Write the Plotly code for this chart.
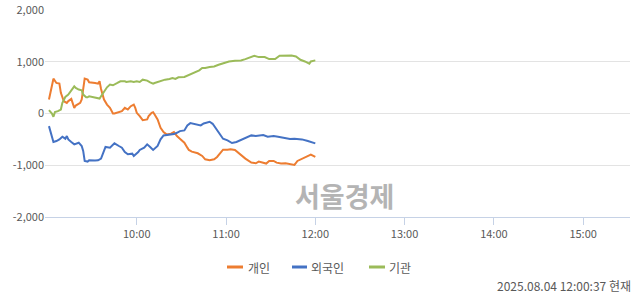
import plotly.graph_objects as go
import pandas as pd

DATE = "2025-08-04"

ind_t = ["09:01","09:04","09:06","09:08","09:09","09:11","09:13","09:14","09:16","09:18","09:19","09:22","09:23","09:24","09:25","09:27","09:28","09:32","09:34","09:35","09:36","09:38","09:40","09:42","09:44","09:45","09:48","09:50","09:52","09:54","09:56","09:58","09:59","10:00","10:02","10:04","10:07","10:08","10:10","10:11","10:12","10:14","10:16","10:18","10:20","10:23","10:25","10:27","10:29","10:32","10:34","10:35","10:37","10:41","10:44","10:46","10:49","10:52","10:54","10:56","10:58","11:01","11:03","11:06","11:08","11:11","11:13","11:17","11:20","11:22","11:25","11:27","11:29","11:32","11:34","11:37","11:40","11:44","11:46","11:48","11:51","11:53","11:55","11:57","12:00"]
ind_v = [270,673,590,577,400,237,205,240,282,109,154,205,270,525,673,654,603,590,577,622,474,270,173,109,0,0,26,45,109,77,141,173,109,13,-51,-128,-115,-51,13,26,-20,-115,-276,-359,-404,-391,-359,-436,-487,-564,-660,-705,-737,-769,-820,-885,-904,-885,-840,-760,-700,-700,-690,-705,-756,-820,-872,-949,-962,-929,-949,-968,-917,-917,-949,-968,-962,-981,-994,-917,-872,-853,-820,-795,-840]

frn_t = ["09:01","09:03","09:04","09:06","09:08","09:10","09:12","09:13","09:14","09:16","09:18","09:21","09:23","09:24","09:25","09:27","09:28","09:32","09:34","09:36","09:38","09:39","09:42","09:44","09:45","09:48","09:50","09:52","09:54","09:57","09:58","10:01","10:02","10:05","10:07","10:09","10:11","10:14","10:16","10:18","10:22","10:25","10:27","10:29","10:32","10:34","10:36","10:38","10:41","10:43","10:45","10:49","10:51","10:53","10:55","10:58","11:01","11:04","11:07","11:10","11:13","11:17","11:20","11:25","11:28","11:32","11:35","11:39","11:43","11:46","11:51","11:55","11:59","12:00"]
frn_v = [-244,-436,-551,-532,-500,-449,-487,-436,-500,-551,-596,-564,-628,-724,-917,-929,-904,-910,-904,-872,-692,-647,-660,-609,-577,-628,-660,-744,-788,-776,-820,-744,-705,-660,-596,-647,-705,-628,-500,-423,-404,-398,-372,-340,-327,-231,-186,-199,-212,-231,-192,-160,-199,-276,-372,-487,-519,-570,-551,-513,-468,-423,-436,-417,-449,-436,-449,-468,-494,-487,-500,-532,-564,-577]

ins_t = ["09:01","09:03","09:04","09:05","09:07","09:09","09:10","09:12","09:14","09:15","09:17","09:18","09:19","09:21","09:23","09:24","09:26","09:27","09:28","09:31","09:33","09:35","09:36","09:38","09:40","09:42","09:44","09:47","09:49","09:52","09:53","09:56","09:58","10:00","10:02","10:04","10:07","10:09","10:11","10:12","10:15","10:17","10:19","10:22","10:24","10:26","10:28","10:32","10:34","10:36","10:38","10:42","10:44","10:46","10:49","10:52","10:55","10:59","11:02","11:06","11:10","11:13","11:17","11:19","11:22","11:26","11:29","11:33","11:36","11:39","11:44","11:47","11:50","11:53","11:56","11:57","12:00"]
ins_v = [64,0,-64,26,45,77,205,320,365,410,474,525,494,462,449,365,314,314,333,314,301,288,333,430,506,558,545,590,622,622,609,622,609,622,609,654,635,603,577,590,622,635,654,667,686,667,699,705,731,769,795,833,878,878,897,910,942,974,1006,1019,1026,1051,1090,1115,1090,1090,1051,1051,1115,1122,1122,1103,1038,1006,962,1006,1026]

series_names = ["개인", "외국인", "기관"]
series_colors = ["#ED7D31", "#4472C4", "#9BBB59"]
y_ticks = [-2000, -1000, 0, 1000, 2000]
y_labels = ["-2,000", "-1,000", "0", "1,000", "2,000"]
x_ticks = ["10:00", "11:00", "12:00", "13:00", "14:00", "15:00"]
stamp = "2025.08.04 12:00:37 현재"
watermark = "서울경제"


def to_dt(ts):
    return pd.to_datetime([f"{DATE} {t}" for t in ts])


FONT = "Noto Sans CJK KR"
GRAY = "#595959"

fig = go.Figure()
for name, color, t, v in zip(series_names, series_colors, [ind_t, frn_t, ins_t], [ind_v, frn_v, ins_v]):
    fig.add_trace(go.Scatter(x=to_dt(t), y=v, mode="lines", name=name,
                             line=dict(color=color, width=2), showlegend=False))

# plot area in pixels
L, R, T, B = 45, 630, 10, 217
W, H = 640, 294


def px(xp):
    return (xp - L) / (R - L)


def py(yp):
    return (B - yp) / (B - T)


fig.update_layout(
    width=W, height=H,
    margin=dict(l=L, r=W - R, t=T, b=H - B, autoexpand=False),
    paper_bgcolor="white", plot_bgcolor="white",
    font=dict(family=FONT, size=11, color=GRAY),
    xaxis=dict(
        type="date", automargin=False,
        range=[f"{DATE} 08:58:20", f"{DATE} 15:31:30"],
        tickvals=to_dt(x_ticks), ticktext=x_ticks,
        ticks="outside", ticklen=7, tickcolor="#C6D2E6", tickwidth=1,
        showline=True, linecolor="#C6D2E6", linewidth=1,
        showgrid=False, zeroline=False,
        tickfont=dict(size=11, color=GRAY),
    ),
    yaxis=dict(
        range=[-2000, 2000], automargin=False,
        tickvals=y_ticks, ticktext=y_labels,
        showgrid=True, gridcolor="#E3E3E3", gridwidth=1,
        zeroline=False, showline=False, ticks="",
        tickfont=dict(size=11, color=GRAY),
    ),
)

# watermark
fig.add_annotation(text=f"<b>{watermark}</b>", xref="paper", yref="paper",
                   x=px(344), y=py(195), xanchor="center", yanchor="middle",
                   showarrow=False, font=dict(family=FONT, size=27, color="#B4B4B4"))

# manual legend
leg_y = py(267)
leg_items = [(227, 243, 246), (292, 307, 309), (369, 385, 387)]
for (x0, x1, xt), name, color in zip(leg_items, series_names, series_colors):
    fig.add_shape(type="line", xref="paper", yref="paper", x0=px(x0), x1=px(x1),
                  y0=leg_y, y1=leg_y, line=dict(color=color, width=3))
    fig.add_annotation(text=name, xref="paper", yref="paper", x=px(xt), y=leg_y,
                       xanchor="left", yanchor="middle", showarrow=False,
                       font=dict(family=FONT, size=12, color=GRAY))

# timestamp
fig.add_annotation(text=stamp, xref="paper", yref="paper", x=px(633), y=py(285),
                   xanchor="right", yanchor="middle", showarrow=False,
                   font=dict(family=FONT, size=12, color=GRAY))

fig.write_html("out.html")
